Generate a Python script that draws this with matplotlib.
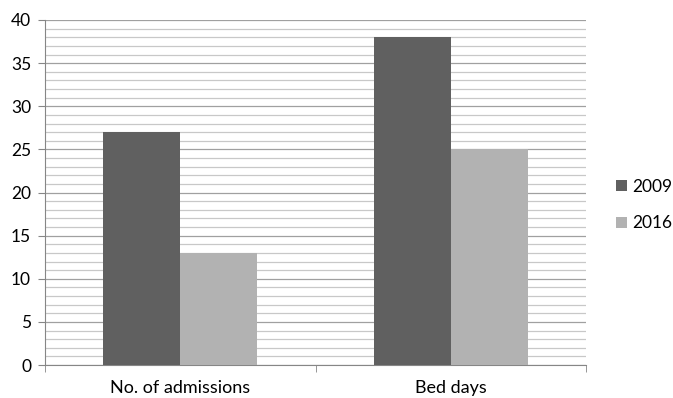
import numpy as np
import matplotlib.pyplot as plt
from matplotlib.ticker import MultipleLocator

categories = ['No. of admissions', 'Bed days']
series_names = ['2009', '2016']
values_2009 = [27, 38]
values_2016 = [13, 25]

plt.rcParams['font.family'] = ['Lato', 'DejaVu Sans']
fs = 12.5

fig = plt.figure(figsize=(6.73, 3.98), dpi=100)
ax = fig.add_axes([45 / 673, 33 / 398, 541 / 673, 345 / 398])

x = np.arange(len(categories))
w = 0.285
ax.bar(x - w / 2, values_2009, width=w, color='#606060', label=series_names[0], zorder=3)
ax.bar(x + w / 2, values_2016, width=w, color='#b2b2b2', label=series_names[1], zorder=3)

ax.set_xlim(-0.5, 1.5)
ax.set_ylim(0, 40)
ax.yaxis.set_major_locator(MultipleLocator(5))
ax.yaxis.set_minor_locator(MultipleLocator(1))
ax.grid(axis='y', which='minor', color='#c8c8c8', linewidth=0.9, zorder=0)
ax.grid(axis='y', which='major', color='#a0a0a0', linewidth=0.9, zorder=1)

ax.set_xticks(x)
ax.set_xticklabels(categories, fontsize=13)
ax.set_xticks([-0.5, 0.5, 1.5], minor=True)
ax.tick_params(axis='x', which='major', length=0, pad=11)
ax.tick_params(axis='x', which='minor', length=5, color='#868686')
ax.tick_params(axis='y', which='major', length=5, color='#868686', labelsize=fs, pad=5)
ax.tick_params(axis='y', which='minor', length=0)

for s in ['top', 'right']:
    ax.spines[s].set_visible(False)
for s in ['left', 'bottom']:
    ax.spines[s].set_color('#868686')

ax.legend(loc='center left', bbox_to_anchor=(1.037, 0.464), frameon=False,
          fontsize=fs, handlelength=0.6, handleheight=0.6, labelspacing=1.2,
          handletextpad=0.3, borderaxespad=0.2)

fig.savefig('out.png', dpi=100)
